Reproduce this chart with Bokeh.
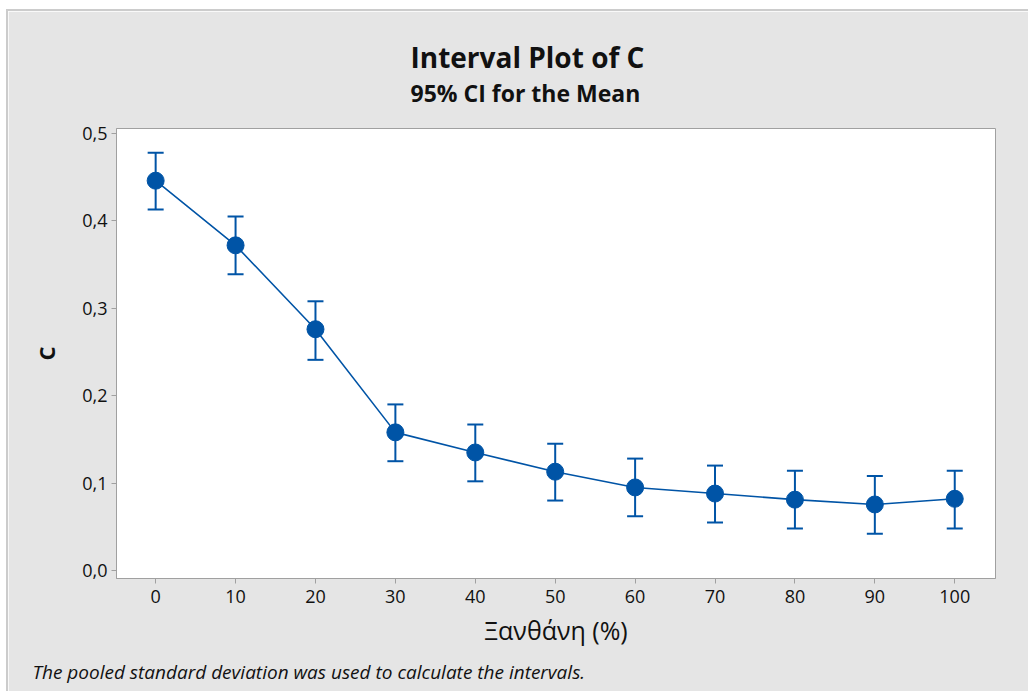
from bokeh.plotting import figure
from bokeh.models import Range1d, FixedTicker, Title
from bokeh.embed import file_html
from bokeh.resources import INLINE

# data
levels = [0, 10, 20, 30, 40, 50, 60, 70, 80, 90, 100]
means = [0.446, 0.372, 0.276, 0.158, 0.135, 0.113, 0.095, 0.088, 0.081, 0.0755, 0.082]
lower = [0.413, 0.339, 0.241, 0.125, 0.102, 0.080, 0.062, 0.055, 0.048, 0.042, 0.048]
upper = [0.478, 0.405, 0.308, 0.190, 0.167, 0.145, 0.128, 0.120, 0.114, 0.108, 0.114]
y_ticks = [0.0, 0.1, 0.2, 0.3, 0.4, 0.5]
y_tick_labels = ["0,0", "0,1", "0,2", "0,3", "0,4", "0,5"]

BLUE = "#0054a6"
BG = "#e5e5e5"
FONT = "Open Sans"
TXT = "#111111"

p = figure(width=1022, height=682, output_backend="svg", toolbar_location=None, title=None,
           x_range=Range1d(-4.9, 105.1), y_range=Range1d(-0.0092, 0.5057),
           min_border_left=108, min_border_right=35, min_border_top=117, min_border_bottom=115,
           background_fill_color="white", border_fill_color=BG, margin=(9, 0, 0, 6))
p.styles = {"border-top": "2px solid #cccccc", "border-left": "2px solid #cccccc"}

p.grid.visible = False
p.outline_line_color = "#a0a0a0"
p.outline_line_width = 1

for ax in (p.xaxis, p.yaxis):
    ax.axis_line_color = "#a0a0a0"
    ax.major_tick_line_color = "#a0a0a0"
    ax.major_tick_in = 0
    ax.major_tick_out = 5
    ax.minor_tick_line_color = None
    ax.major_label_text_font = FONT
    ax.major_label_text_font_size = "18px"
    ax.major_label_text_color = TXT
    ax.axis_label_text_font = FONT
    ax.axis_label_text_color = TXT

p.xaxis.ticker = FixedTicker(ticks=levels)
p.xaxis.major_label_standoff = 6
p.xaxis.axis_label = "Ξανθάνη (%)"
p.xaxis.axis_label_text_font_size = "25px"
p.xaxis.axis_label_text_font_style = "normal"
p.xaxis.axis_label_standoff = 7

p.yaxis.ticker = FixedTicker(ticks=y_ticks)
p.yaxis.major_label_overrides = {t: l for t, l in zip(y_ticks, y_tick_labels)}
p.yaxis.major_label_standoff = 4
p.yaxis.axis_label = "C"
p.yaxis.axis_label_text_font_size = "22px"
p.yaxis.axis_label_text_font_style = "bold"
p.yaxis.axis_label_standoff = 18

# intervals
p.segment(x0=levels, y0=lower, x1=levels, y1=upper, line_color=BLUE, line_width=2)
p.scatter(x=levels, y=lower, marker="dash", size=16, line_color=BLUE, line_width=2)
p.scatter(x=levels, y=upper, marker="dash", size=16, line_color=BLUE, line_width=2)
p.line(x=levels, y=means, line_color=BLUE, line_width=1.6)
p.scatter(x=levels, y=means, marker="circle", size=17, fill_color=BLUE, line_color=BLUE)

# titles
p.add_layout(Title(text="95% CI for the Mean", align="left", offset=294,
                   text_font=FONT, text_font_size="23px", text_font_style="bold",
                   text_color=TXT, standoff=39), "above")
p.add_layout(Title(text="Interval Plot of C", align="left", offset=294,
                   text_font=FONT, text_font_size="28px", text_font_style="bold",
                   text_color=TXT, standoff=-40), "above")
p.add_layout(Title(text="The pooled standard deviation was used to calculate the intervals.",
                   align="left", offset=-84,
                   text_font=FONT, text_font_size="19px", text_font_style="italic",
                   text_color=TXT, standoff=14), "below")

open("out.html", "w").write(file_html(p, INLINE))
